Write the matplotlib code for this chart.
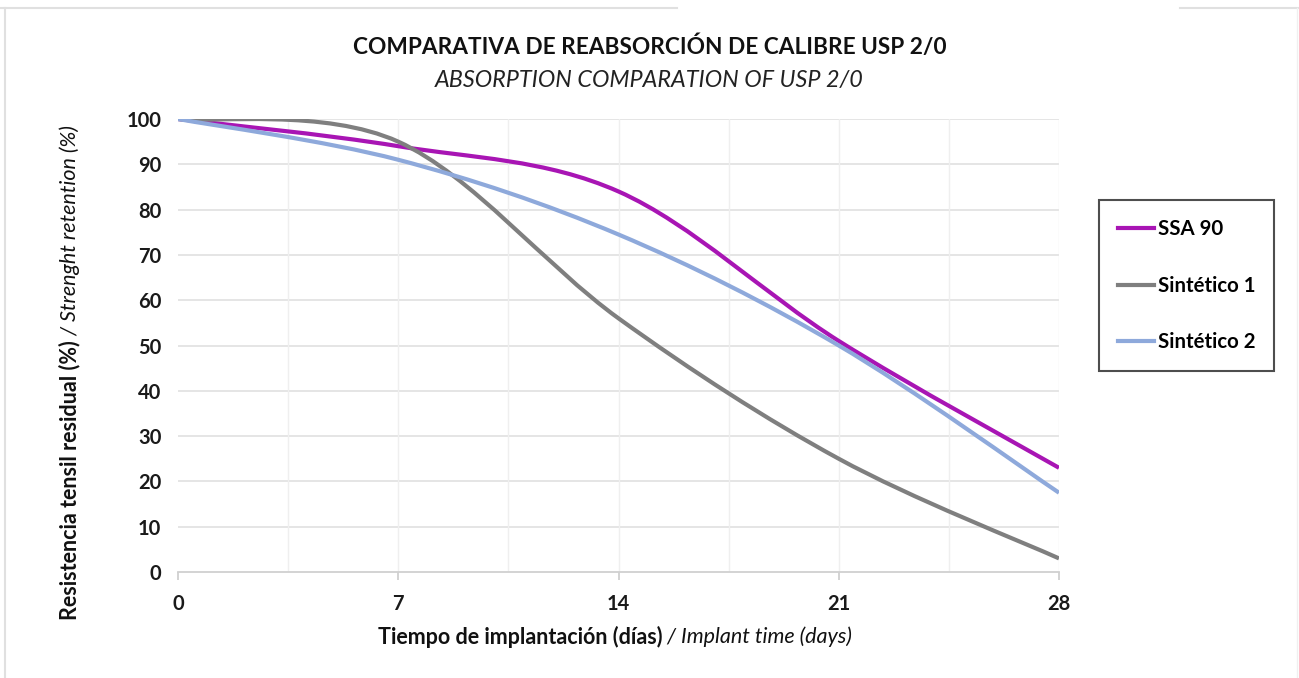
import matplotlib.pyplot as plt
from matplotlib.path import Path
from matplotlib.patches import PathPatch
from matplotlib.lines import Line2D
import numpy as np

# ---------------------------------------------------------------------------
# Data
# ---------------------------------------------------------------------------
days = [0, 7, 14, 21, 28]
ssa90 = [100, 94, 84, 51, 23]
sintetico1 = [100, 95, 56, 25, 3]
sintetico2 = [100, 91, 74.5, 50, 17.5]

series_names = ['SSA 90', 'Sintético 1', 'Sintético 2']
series_colors = ['#A815B4', '#7F7F7F', '#8EA9DB']

FONT = 'Lato'


def smooth_path(x, y):
    """Excel-like smoothed line: cubic Bezier through the points."""
    pts = np.column_stack([x, y]).astype(float)
    ext = np.vstack([pts[0], pts, pts[-1]])
    verts = [pts[0]]
    codes = [Path.MOVETO]
    for i in range(len(pts) - 1):
        p0, p1, p2, p3 = ext[i], ext[i + 1], ext[i + 2], ext[i + 3]
        verts += [p1 + (p2 - p0) / 6, p2 - (p3 - p1) / 6, p2]
        codes += [Path.CURVE4] * 3
    return Path(verts, codes)


fig = plt.figure(figsize=(12.99, 6.78), dpi=100)
ax = fig.add_axes([178 / 1299, 1 - 572 / 678, 881 / 1299, 453 / 678])

# grid
for v in np.arange(10, 101, 10):
    ax.axhline(v, color='#E3E3E3', lw=1.3, zorder=0)
for v in np.arange(3.5, 28, 3.5):
    ax.axvline(v, color='#EFEFEF', lw=1.0, zorder=0)
ax.axvline(28, color='#EFEFEF', lw=1.0, zorder=0)

handles = []
for vals, name, col in zip([ssa90, sintetico1, sintetico2],
                           series_names, series_colors):
    ax.add_patch(PathPatch(smooth_path(days, vals), facecolor='none',
                           edgecolor=col, lw=3.0, capstyle='butt', zorder=3))
    handles.append(Line2D([], [], color=col, lw=3.0, label=name))

ax.set_xlim(0, 28)
ax.set_ylim(0, 100)
ax.set_xticks(days)
ax.set_yticks(range(0, 101, 10))
for s in ['top', 'right', 'left']:
    ax.spines[s].set_visible(False)
ax.spines['bottom'].set_color('#D0D0D0')
ax.spines['bottom'].set_linewidth(1.3)
ax.tick_params(axis='y', length=0, pad=12)
ax.tick_params(axis='x', length=6, color='#D0D0D0', width=1.3, pad=10)
for lab in ax.get_xticklabels() + ax.get_yticklabels():
    lab.set_fontfamily(FONT)
    lab.set_fontweight('bold')
    lab.set_fontsize(14.5)
    lab.set_color('#1A1A1A')

# titles
fig.text(0.5, 1 - 47 / 678, 'COMPARATIVA DE REABSORCIÓN DE CALIBRE USP 2/0',
         ha='center', va='center', fontsize=16.3, fontweight='bold',
         family=FONT, color='#111111')
fig.text(0.5, 1 - 80 / 678, 'ABSORPTION COMPARATION OF USP 2/0',
         ha='center', va='center', fontsize=16.8, style='italic',
         family=FONT, color='#222222')

# x label (bold + italic parts)
xl = fig.text(378 / 1299, 1 - 637 / 678, 'Tiempo de implantación (días)',
              ha='left', va='center', fontsize=15.5, fontweight='bold',
              family=FONT, color='#111111')
plt.annotate(' / Implant time (days)', xy=(1, 0.5), xycoords=xl,
             ha='left', va='center', fontsize=15.5, style='italic',
             family=FONT, color='#111111', annotation_clip=False)

# y label (bold + italic parts)
yl = fig.text(70 / 1299, 1 - 620 / 678, 'Resistencia tensil residual (%)',
              ha='center', va='bottom', rotation=90, fontsize=15.5,
              fontweight='bold', family=FONT, color='#111111')
plt.annotate(' / Strenght retention (%)', xy=(0.5, 1), xycoords=yl,
             ha='center', va='bottom', rotation=90, fontsize=15.5,
             style='italic', family=FONT, color='#111111',
             annotation_clip=False)

# legend
leg = fig.legend(handles=handles, loc='upper left',
                 bbox_to_anchor=(1099 / 1299, 1 - 200 / 678),
                 bbox_transform=fig.transFigure, frameon=True,
                 fancybox=False, edgecolor='#222222', borderpad=0.93,
                 borderaxespad=0, labelspacing=1.8, handlelength=1.75,
                 handletextpad=0.2,
                 prop={'family': FONT, 'weight': 'bold', 'size': 14.7})
leg.get_frame().set_linewidth(1.5)

# outer border of the chart area
fig.add_artist(Line2D([0, 677 / 1299], [1 - 8 / 678] * 2,
                      transform=fig.transFigure, color='#E0E0E0', lw=1.5))
fig.add_artist(Line2D([1180 / 1299, 1], [1 - 8 / 678] * 2,
                      transform=fig.transFigure, color='#E0E0E0', lw=1.5))
fig.add_artist(Line2D([5 / 1299] * 2, [0, 1 - 8 / 678],
                      transform=fig.transFigure, color='#E0E0E0', lw=1.5))
fig.add_artist(Line2D([1297 / 1299] * 2, [0, 1 - 8 / 678],
                      transform=fig.transFigure, color='#F0F0F0', lw=1.0))

fig.savefig('out.png', dpi=100)
